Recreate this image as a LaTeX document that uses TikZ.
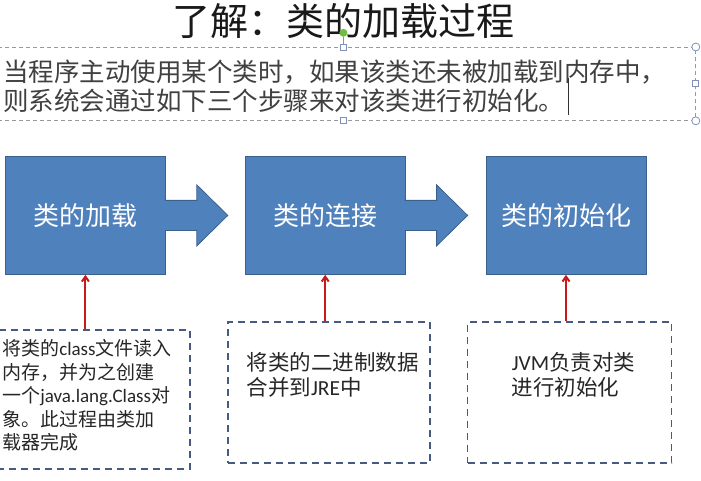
\documentclass[tikz,border=0pt]{standalone}
\usepackage{fontspec}
\setmainfont{Noto Sans CJK SC}
\newfontfamily\latin{Carlito}
\usetikzlibrary{arrows.meta, positioning, calc}
\definecolor{stageblue}{RGB}{79,129,189}
\definecolor{stageedge}{RGB}{60,96,140}
\definecolor{noteedge}{RGB}{70,90,130}
\definecolor{pointred}{RGB}{200,25,25}
\definecolor{handlegray}{RGB}{130,145,185}
\definecolor{rotgreen}{RGB}{110,190,70}

\begin{document}
\begin{tikzpicture}[x=1pt, y=1pt,
    stage/.style={draw=stageedge, fill=stageblue, line width=0.8pt, minimum width=160pt, minimum height=118pt, inner sep=0pt, text=white, font=\fontsize{26}{30}\selectfont},
    flow/.style={draw=stageedge, fill=stageblue, line width=0.8pt, line join=miter},
    notebox/.style={draw=noteedge, dash pattern=on 7pt off 5pt, line width=1.7pt, inner sep=0pt},
    notetext/.style={align=left, inner sep=0pt, text=black!85},
    pointer/.style={-{Straight Barb[length=5pt, width=7pt]}, pointred, line width=2pt},
    selframe/.style={draw=black!40, dash pattern=on 4pt off 3pt, line width=0.8pt, inner sep=0pt},
    handle/.style={draw=handlegray, fill=white, line width=0.8pt, inner sep=0pt, minimum size=6pt},
  ]
  \useasboundingbox (0,0) rectangle (701,-481);

  % title and the selected text box
  \node[font=\fontsize{38}{40}\selectfont, text=black!90] (title) at (343,-21) {了解：类的加载过程};
  \node[selframe, anchor=north west, minimum width=704pt, minimum height=73pt] (frame) at (-9,-47) {};
  \node[notetext, anchor=north west, font=\fontsize{25.5}{29}\selectfont, text=black!75] (intro) at ([shift={(12pt,-12.5pt)}]frame.north west)
    {当程序主动使用某个类时，如果该类还未被加载到内存中，\\则系统会通过如下三个步骤来对该类进行初始化。};

  \node[circle, fill=rotgreen, minimum size=8pt, inner sep=0pt, above=10pt of frame.north] (rot) {};
  \draw[handlegray, line width=0.8pt] (rot) -- (frame.north);
  \foreach \a in {north, south, east}
    \node[handle] (h-\a) at (frame.\a) {};
  \foreach \a/\n in {north east/ne, south east/se}
    \node[handle, circle, minimum size=8pt] (h-\n) at (frame.\a) {};
  \draw[black!80, line width=0.8pt] (568,-78) -- (568,-115);

  % the three steps
  \node[stage, anchor=north west] (load) at (5,-156) {类的加载};
  \node[stage, right=79pt of load] (link) {类的连接};
  \node[stage, right=80pt of link] (init) {类的初始化};

  \foreach \s in {load, link}
    \draw[flow] ([shift={(-1pt,15pt)}]\s.east) -- ++(32pt,0) -- ++(0,15.5pt) -- ([xshift=62pt]\s.east)
      -- ++(-31pt,-30.5pt) -- ++(0,15.5pt) -- ++(-32pt,0);

  % notes below
  \node[notebox, below=54pt of load, xshift=8pt, minimum width=193pt, minimum height=139pt] (desc1) {};
  \node[notebox, below=46pt of link, xshift=4pt, minimum width=202pt, minimum height=141pt] (desc2) {};
  \node[notebox, below=46pt of init, xshift=3.5pt, minimum width=204pt, minimum height=141pt] (desc3) {};

  \node[notetext, anchor=north west, font=\fontsize{19}{23.5}\selectfont] (note1) at ([shift={(6pt,-10.5pt)}]desc1.north west)
    {将类的{\latin class}文件读入\\内存，并为之创建\\一个{\latin java.lang.Class}对\\象。此过程由类加\\载器完成};
  \node[notetext, anchor=north west, font=\fontsize{21.5}{25}\selectfont] (note2) at ([shift={(19pt,-31pt)}]desc2.north west)
    {将类的二进制数据\\合并到{\latin JRE}中};
  \node[notetext, anchor=north west, font=\fontsize{21.5}{25}\selectfont] (note3) at ([shift={(45pt,-31pt)}]desc3.north west)
    {{\latin JVM}负责对类\\进行初始化};

  \foreach \s/\d in {load/desc1, link/desc2, init/desc3}
    \draw[pointer] (\s.south |- \d.north) -- (\s.south);
\end{tikzpicture}
\end{document}
